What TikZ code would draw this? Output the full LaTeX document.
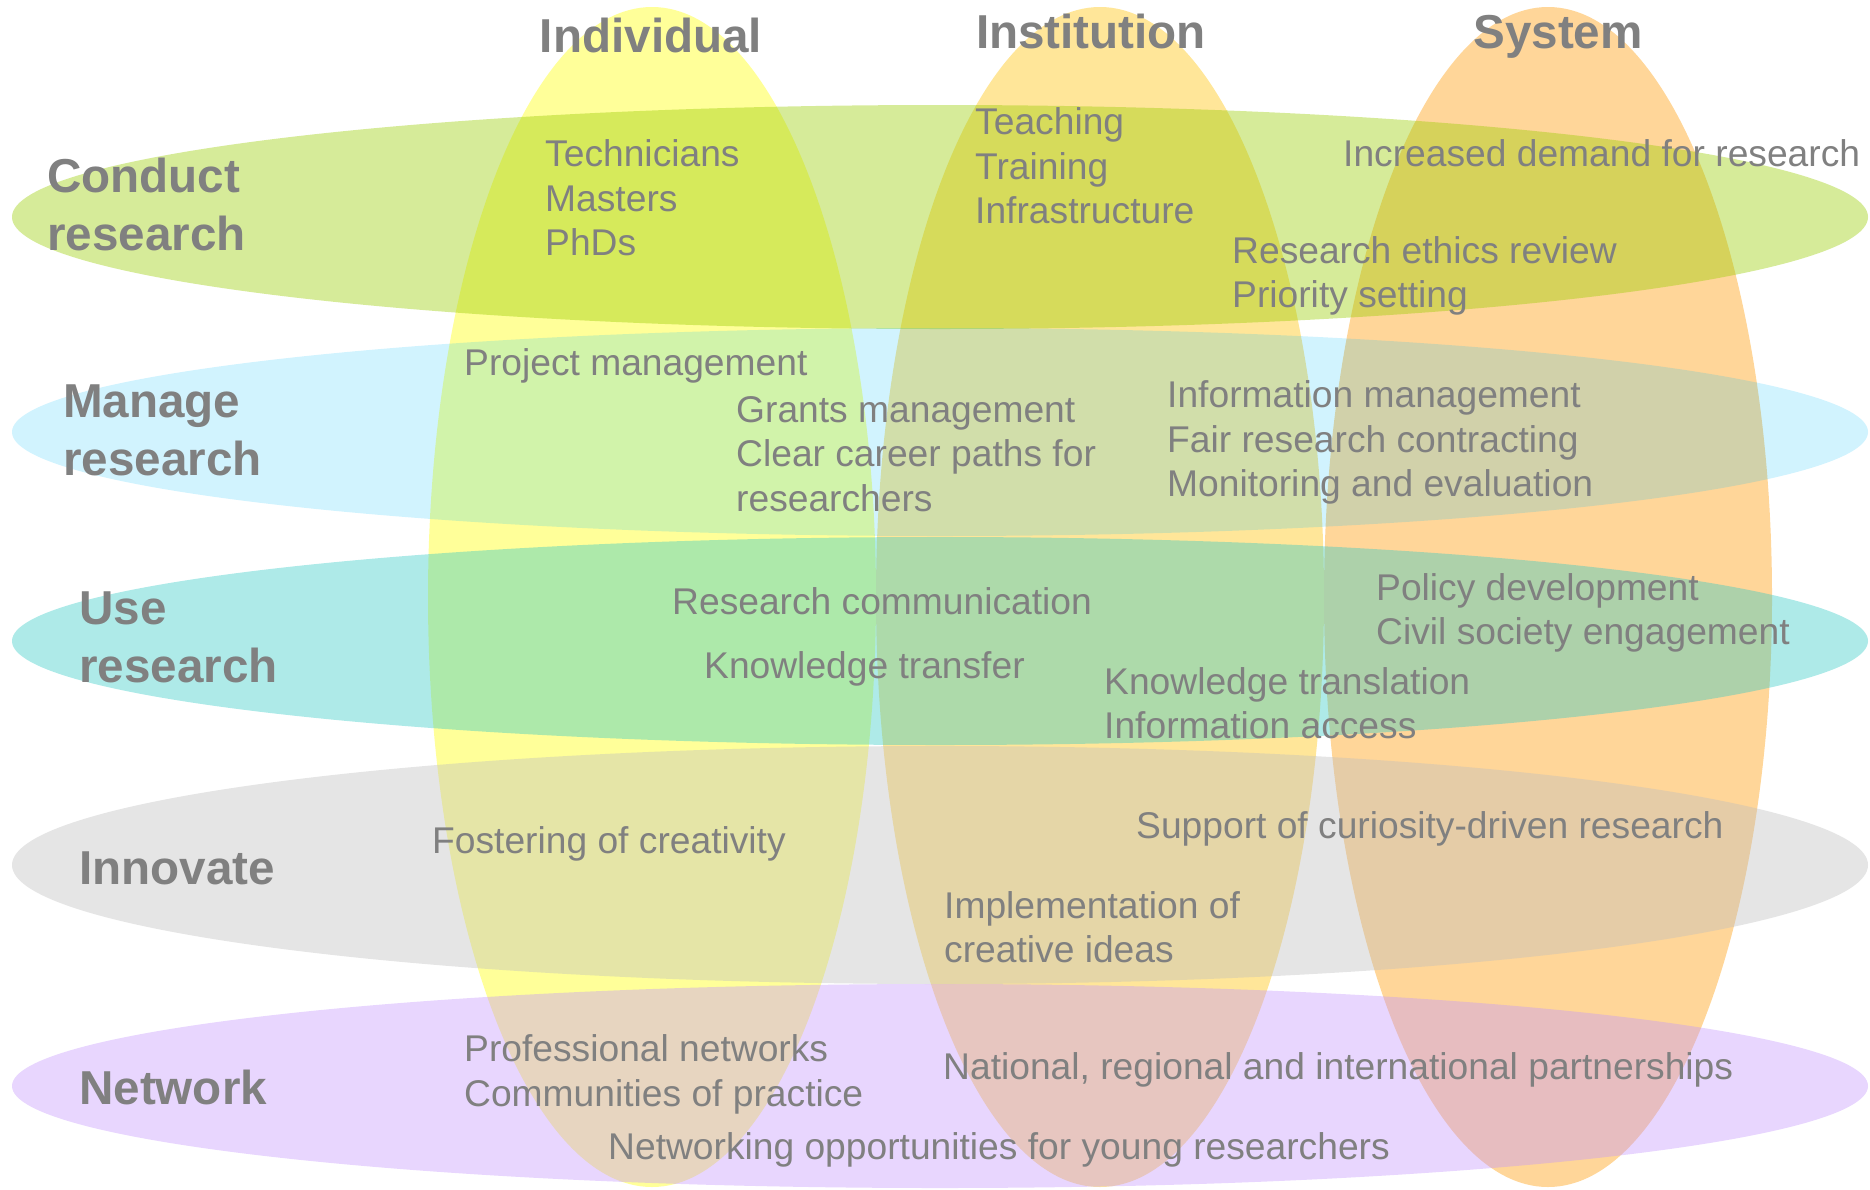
\documentclass[tikz,border=0pt]{standalone}
\usepackage{fontspec}
\setmainfont{Liberation Sans}
\definecolor{txt}{RGB}{128,128,128}
\definecolor{indiv}{RGB}{255,255,153}
\definecolor{instit}{RGB}{255,230,153}
\definecolor{sysc}{RGB}{255,214,153}
\definecolor{conductc}{RGB}{153,204,0}
\definecolor{managec}{RGB}{0,189,250}
\definecolor{usec}{RGB}{52,202,197}
\definecolor{innovc}{RGB}{190,190,190}
\definecolor{netc}{RGB}{197,152,252}
\newcommand{\itmlines}[1]{\begin{tabular}[t]{@{}l@{}}#1\end{tabular}}
\tikzset{
  colhead/.style={anchor=base, inner sep=0pt, text=txt, font=\fontsize{47.6}{58}\selectfont\bfseries},
  rowhead/.style={anchor=base west, inner sep=0pt, text=txt, font=\fontsize{47.6}{58}\selectfont\bfseries},
  item/.style={anchor=base west, inner sep=0pt, text=txt, font=\fontsize{37.2}{44.5}\selectfont},
  hband/.style={fill opacity=0.4},
}
\begin{document}
\begin{tikzpicture}[x=1pt,y=-1pt]
\useasboundingbox (0,0) rectangle (1870,1189);
% vertical ellipses
\fill[indiv]  (652,597)  ellipse [x radius=224pt, y radius=590pt];
\fill[instit] (1100,597) ellipse [x radius=224pt, y radius=590pt];
\fill[sysc]   (1548,597) ellipse [x radius=224pt, y radius=590pt];
% horizontal ellipses
\fill[conductc, hband] (940,217)  ellipse [x radius=928pt, y radius=112pt];
\fill[managec, fill opacity=0.18] (940,432) ellipse [x radius=928pt, y radius=104pt];
\fill[usec, hband]     (940,641)  ellipse [x radius=928pt, y radius=104pt];
\fill[innovc, hband]   (940,865)  ellipse [x radius=928pt, y radius=119pt];
\fill[netc, hband]     (940,1086) ellipse [x radius=928pt, y radius=102pt];
% column headers
\node[colhead] (hind) at (651,52) {Individual};
\node[colhead] (hins) at (1091,48) {Institution};
\node[colhead] (hsys) at (1558,48) {System};
% row headers
\node[rowhead] (rcon) at (47,192.5) {\itmlines{Conduct\\research}};
\node[rowhead] (rman) at (63,417) {\itmlines{Manage\\research}};
\node[rowhead] (ruse) at (79,624) {\itmlines{Use\\research}};
\node[rowhead] (rinn) at (79,884) {Innovate};
\node[rowhead] (rnet) at (79,1104) {Network};
% items
\node[item] (i1) at (545,166.5) {\itmlines{Technicians\\Masters\\PhDs}};
\node[item] (i2) at (975,134.5) {\itmlines{Teaching\\Training\\Infrastructure}};
\node[item] (i3) at (1343,166.5) {Increased demand for research};
\node[item] (i4) at (1232,263.3) {\itmlines{Research ethics review\\Priority setting}};
\node[item] (i5) at (464,375) {Project management};
\node[item] (i6) at (736,422) {\itmlines{Grants management\\Clear career paths for\\researchers}};
\node[item] (i7) at (1167,407.6) {\itmlines{Information management\\Fair research contracting\\Monitoring and evaluation}};
\node[item] (i8) at (672,614) {Research communication};
\node[item] (i9) at (704,678) {Knowledge transfer};
\node[item] (i10) at (1376,600) {\itmlines{Policy development\\Civil society engagement}};
\node[item] (i11) at (1104,694) {\itmlines{Knowledge translation\\Information access}};
\node[item] (i12) at (432,853) {Fostering of creativity};
\node[item] (i13) at (1136,838) {Support of curiosity-driven research};
\node[item] (i14) at (944,918) {\itmlines{Implementation of\\creative ideas}};
\node[item] (i15) at (464,1061.6) {\itmlines{Professional networks\\Communities of practice}};
\node[item] (i16) at (943,1079) {National, regional and international partnerships};
\node[item] (i17) at (608,1159) {Networking opportunities for young researchers};
\end{tikzpicture}
\end{document}
